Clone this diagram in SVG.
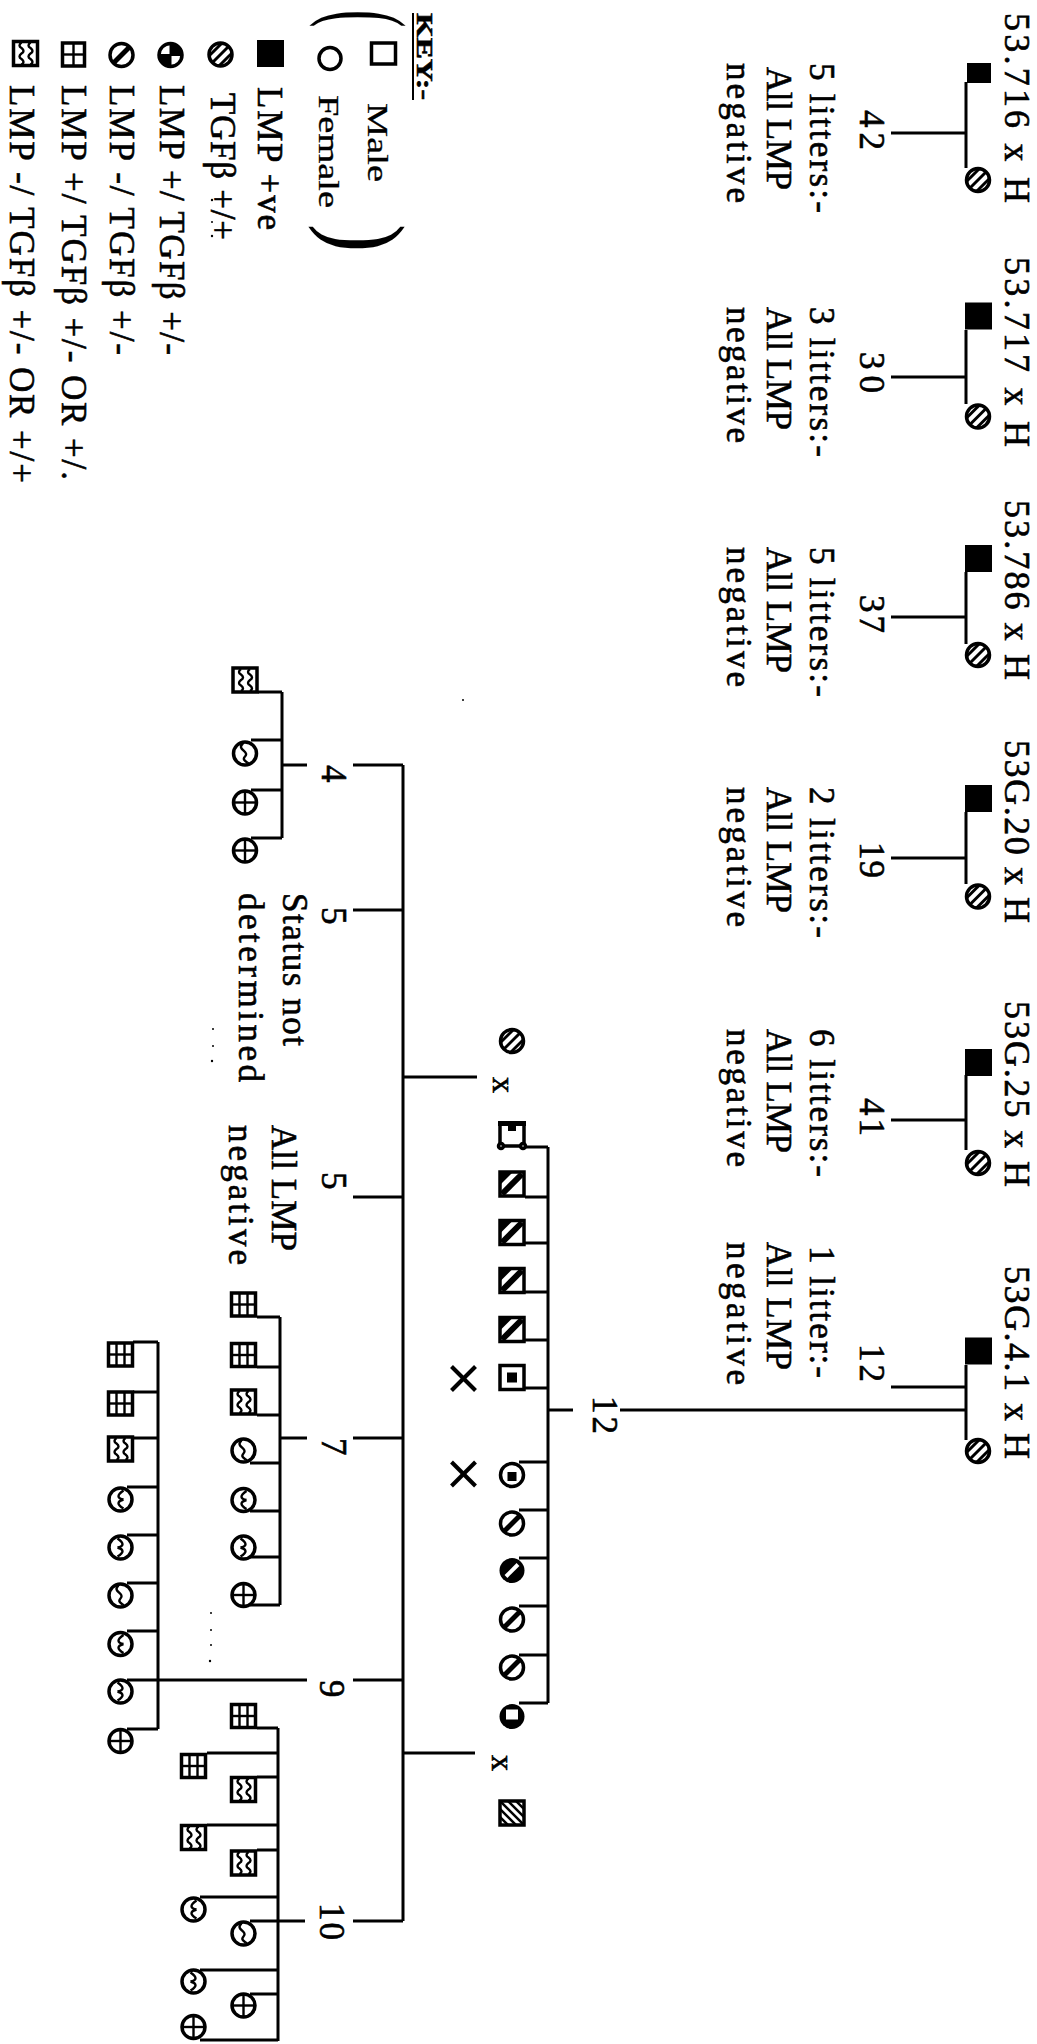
<svg xmlns="http://www.w3.org/2000/svg" xmlns:xlink="http://www.w3.org/1999/xlink" width="1037" height="2044" viewBox="0 0 1037 2044">
<style>
.t{font-family:"Liberation Serif","Times New Roman",serif;fill:#000;stroke:#000;stroke-width:0.6;font-size:35px}
.ti{font-size:36px}
.kk{font-size:24px;font-weight:bold}
.km{font-size:30px;stroke-width:0.3}
.sx{font-size:32px}
.ln{stroke:#000;stroke-width:3;fill:none}
.o{fill:#fff;stroke:#000;stroke-width:3.5}
.th{stroke:#000;stroke-width:2.4;fill:none}
</style>
<defs>
<clipPath id="cc"><circle r="11.5"/></clipPath>
<clipPath id="sc"><rect x="-12" y="-12" width="24" height="24"/></clipPath>
<g id="sqFill"><rect x="-13.5" y="-13.5" width="27" height="27" fill="#000"/></g>
<g id="sqOpen"><rect x="-12" y="-10.5" width="24" height="21" class="o" stroke-width="3.5"/></g>
<g id="cOpen"><circle r="11" class="o" stroke-width="3.5"/></g>
<g id="cStripe"><circle r="11.5" class="o"/><g clip-path="url(#cc)" stroke="#000" stroke-width="3"><line x1="-15" y1="5" x2="5" y2="-15"/><line x1="-10" y1="10" x2="10" y2="-10"/><line x1="-5" y1="15" x2="15" y2="-5"/></g></g>
<g id="cQuad"><circle r="11.5" class="o"/><path d="M0,0 V-11.5 A11.5,11.5 0 0 1 11.5,0 Z M0,0 V11.5 A11.5,11.5 0 0 1 -11.5,0 Z" fill="#000"/><line x1="-11" y1="0" x2="11" y2="0" stroke="#000" stroke-width="2"/><line x1="0" y1="-11" x2="0" y2="11" stroke="#000" stroke-width="2"/></g>
<g id="cBar"><circle r="11.5" class="o"/><line x1="8" y1="-8" x2="-8" y2="8" stroke="#000" stroke-width="5"/></g>
<g id="cBarFill"><circle r="12.5" fill="#000"/><line x1="6" y1="-6" x2="-6" y2="6" stroke="#fff" stroke-width="4"/></g>
<g id="sqGrid"><rect x="-12" y="-11.5" width="24" height="23" class="o"/><line x1="-4" y1="-11" x2="-4" y2="11" class="th"/><line x1="4" y1="-11" x2="4" y2="11" class="th"/><line x1="-12" y1="0" x2="12" y2="0" class="th"/></g>
<g id="sqGrid2"><rect x="-11" y="-11.5" width="22" height="23" class="o" stroke-width="3.5"/><line x1="0" y1="-11" x2="0" y2="11" class="th"/><line x1="-11" y1="0" x2="11" y2="0" class="th"/></g>
<g id="cPlus"><circle r="11.5" class="o"/><line x1="-11" y1="0" x2="11" y2="0" class="th"/><line x1="0" y1="-11" x2="0" y2="11" class="th"/></g>
<g id="sqWave"><rect x="-12" y="-12" width="24" height="24" class="o"/><path d="M-4,-11 q-4,3 0,5.5 q4,3 0,5.5 q-4,3 0,5.5 q4,3 0,5.5" class="th"/><path d="M5,-11 q-4,3 0,5.5 q4,3 0,5.5 q-4,3 0,5.5 q4,3 0,5.5" class="th"/></g>
<g id="cWave"><circle r="11.5" class="o"/><path d="M-2,-10 C-9,-4 5,-2 0,3 C-4,7 4,9 3,10" class="th"/></g>
<g id="cChevL"><circle r="11.5" class="o"/><path d="M3,-9 Q-7,-2 3,0 M3,0 Q-7,3 3,9" class="th"/></g>
<g id="cChevR"><circle r="11.5" class="o"/><path d="M-3,-9 Q7,-2 -3,0 M-3,0 Q7,3 -3,9" class="th"/></g>
<g id="sqDiag"><rect x="-12" y="-12" width="24" height="24" class="o" stroke-width="4"/><path d="M-12,-12 H1 L-12,1 Z" fill="#000"/><line x1="-10" y1="10" x2="10" y2="-10" stroke="#000" stroke-width="6"/></g>
<g id="sqChk"><rect x="-12" y="-12" width="24" height="24" class="o" stroke-width="4"/><rect x="-5" y="-5" width="10" height="10" fill="#000"/></g>
<g id="sqOdd"><rect x="-12" y="-11" width="24" height="22" class="o"/><rect x="-14" y="-14" width="28" height="5" fill="#000"/><rect x="-4" y="-11" width="8" height="7" fill="#000"/><circle cx="-11" cy="11" r="2.5" class="o" stroke-width="1.5"/><circle cx="11" cy="11" r="2.5" class="o" stroke-width="1.5"/></g>
<g id="cDot"><circle r="11.5" class="o"/><rect x="-4.5" y="-3" width="9" height="9" fill="#000"/></g>
<g id="cBase"><circle r="12.5" fill="#000"/><rect x="-6" y="-7" width="12" height="10" fill="#fff"/></g>
<g id="sqHatch"><rect x="-12" y="-12" width="24" height="24" class="o"/><g clip-path="url(#sc)" stroke="#000" stroke-width="2.5"><line x1="-16" y1="-8" x2="8" y2="16"/><line x1="-12" y1="-12" x2="12" y2="12"/><line x1="-8" y1="-16" x2="16" y2="8"/><line x1="-20" y1="-4" x2="4" y2="20"/><line x1="-4" y1="-20" x2="20" y2="4"/></g></g>
<g id="bigX"><line x1="-12" y1="-12" x2="12" y2="12" stroke="#000" stroke-width="4"/><line x1="12" y1="-12" x2="-12" y2="12" stroke="#000" stroke-width="4"/></g>
</defs>
<rect width="1037" height="2044" fill="#fff"/>

<g id="key">
<text class="t kk" transform="translate(417,13) rotate(90)" textLength="87" lengthAdjust="spacingAndGlyphs">KEY:-</text>
<line x1="413" y1="13" x2="413" y2="100" stroke="#000" stroke-width="2"/>
<text class="t" style="font-size:105px;stroke-width:0" transform="translate(332,10) rotate(90) scale(0.5,1)">(</text>
<text class="t" style="font-size:105px;stroke-width:0" transform="translate(331,224) rotate(90) scale(0.8,1)">)</text>
<use href="#sqOpen" x="383.5" y="53.5"/>
<text class="t km" transform="translate(368,103) rotate(90)" textLength="79" lengthAdjust="spacingAndGlyphs">Male</text>
<use href="#cOpen" x="330" y="58.5"/>
<text class="t km" transform="translate(319,95) rotate(90)" textLength="113" lengthAdjust="spacingAndGlyphs">Female</text>
<use href="#sqFill" x="270.5" y="53.5"/>
<text class="t" transform="translate(258,87) rotate(90)" textLength="143" lengthAdjust="spacing">LMP +ve</text>
<use href="#cStripe" x="220.5" y="54.5"/>
<text class="t" transform="translate(211,93) rotate(90)" textLength="147" lengthAdjust="spacing">TGFβ +/+</text>
<use href="#cQuad" x="170.5" y="55"/>
<text class="t" transform="translate(160,85) rotate(90)" textLength="270" lengthAdjust="spacing">LMP +/ TGFβ +/-</text>
<use href="#cBar" x="121.5" y="55"/>
<text class="t" transform="translate(110,85) rotate(90)" textLength="270" lengthAdjust="spacing">LMP -/ TGFβ +/-</text>
<use href="#sqGrid2" x="73.5" y="54.5"/>
<text class="t" transform="translate(62,85) rotate(90)" textLength="395" lengthAdjust="spacing">LMP +/  TGFβ +/-  OR +/.</text>
<use href="#sqWave" x="25.5" y="53.5"/>
<text class="t" transform="translate(10,85) rotate(90)" textLength="398" lengthAdjust="spacing">LMP -/  TGFβ +/-  OR +/+</text>
</g>

<g id="connectors" class="ln">
<path d="M966,82 V168 M891,133 H966"/>
<path d="M966,330 V404 M891,377 H966"/>
<path d="M966,572 V644 M891,617 H966"/>
<path d="M966,812 V884 M891,858 H966"/>
<path d="M966,1075 V1150 M891,1120 H966"/>
<path d="M966,1365 V1440 M891,1387 H966 M620,1410 H966"/>
<path d="M548,1410 H573 M548,1147 V1703"/>
<path d="M525,1147 H548 M525,1197 H548 M525,1243 H548 M525,1292 H548 M525,1340 H548 M525,1388 H548"/>
<path d="M519,1462 H548 M519,1510 H548 M519,1558 H548 M519,1606 H548 M519,1655 H548 M519,1703 H548"/>
<path d="M403,1077 H477 M403,1753 H475 M403,765 V1921"/>
<path d="M353,765 H403 M353,910 H403 M353,1197 H403 M353,1438 H403 M353,1680 H403 M353,1921 H403"/>
<path d="M282,765 H307 M280,1438 H307 M127,1680 H307 M278,1921 H305"/>
<path d="M282,692 V838 M280,1317 V1605 M158,1342 V1729 M278,1728 V2041"/>
<path d="M258,692 H282 M251,740 H282 M251,790 H282 M251,838 H282"/>
<path d="M257,1317 H280 M257,1367 H280 M257,1415 H280 M250,1463 H280 M250,1511 H280 M250,1557 H280 M250,1605 H280"/>
<path d="M133,1342 H158 M133,1392 H158 M133,1438 H158 M127,1487 H158 M127,1535 H158 M127,1583 H158 M127,1631 H158 M127,1729 H158"/>
<path d="M257,1728 H278 M257,1777 H278 M257,1850 H278 M250,1921 H278 M250,1994 H278"/>
<path d="M207,1753 H278 M207,1825 H278 M200,1897 H278 M200,1970 H278 M200,2040 H278"/>
</g>

<g id="cross1">
<text class="t ti" transform="translate(1005,13) rotate(90)" textLength="190" lengthAdjust="spacing">53.716 x H</text>
<rect x="967" y="63" width="24" height="20" fill="#000"/>
<use href="#cStripe" x="978" y="180"/>
<text class="t" transform="translate(860,110) rotate(90)" textLength="40" lengthAdjust="spacing">42</text>
<text class="t" transform="translate(810,63) rotate(90)" textLength="150" lengthAdjust="spacing">5 litters:-</text>
<text class="t" transform="translate(767,67) rotate(90)" textLength="123" lengthAdjust="spacing">All LMP</text>
<text class="t" transform="translate(727,63) rotate(90)" textLength="140" lengthAdjust="spacing">negative</text>
</g>
<g id="cross2">
<text class="t ti" transform="translate(1005,257) rotate(90)" textLength="190" lengthAdjust="spacing">53.717 x H</text>
<use href="#sqFill" x="978.5" y="316"/>
<use href="#cStripe" x="978" y="416.5"/>
<text class="t" transform="translate(860,352) rotate(90)" textLength="41" lengthAdjust="spacing">30</text>
<text class="t" transform="translate(810,307) rotate(90)" textLength="150" lengthAdjust="spacing">3 litters:-</text>
<text class="t" transform="translate(767,307) rotate(90)" textLength="123" lengthAdjust="spacing">All LMP</text>
<text class="t" transform="translate(727,307) rotate(90)" textLength="136" lengthAdjust="spacing">negative</text>
</g>
<g id="cross3">
<text class="t ti" transform="translate(1005,500) rotate(90)" textLength="180" lengthAdjust="spacing">53.786 x H</text>
<use href="#sqFill" x="978.5" y="558.5"/>
<use href="#cStripe" x="978" y="655"/>
<text class="t" transform="translate(860,595) rotate(90)" textLength="38" lengthAdjust="spacing">37</text>
<text class="t" transform="translate(810,547) rotate(90)" textLength="150" lengthAdjust="spacing">5 litters:-</text>
<text class="t" transform="translate(767,547) rotate(90)" textLength="126" lengthAdjust="spacing">All LMP</text>
<text class="t" transform="translate(727,547) rotate(90)" textLength="140" lengthAdjust="spacing">negative</text>
</g>
<g id="cross4">
<text class="t ti" transform="translate(1005,740) rotate(90)" textLength="183" lengthAdjust="spacing">53G.20 x H</text>
<use href="#sqFill" x="978.5" y="798.5"/>
<use href="#cStripe" x="978" y="896.5"/>
<text class="t" transform="translate(860,842) rotate(90)" textLength="36" lengthAdjust="spacing">19</text>
<text class="t" transform="translate(810,787) rotate(90)" textLength="151" lengthAdjust="spacing">2 litters:-</text>
<text class="t" transform="translate(767,787) rotate(90)" textLength="126" lengthAdjust="spacing">All LMP</text>
<text class="t" transform="translate(727,787) rotate(90)" textLength="140" lengthAdjust="spacing">negative</text>
</g>
<g id="cross5">
<text class="t ti" transform="translate(1005,1001) rotate(90)" textLength="186" lengthAdjust="spacing">53G.25 x H</text>
<use href="#sqFill" x="978.5" y="1062.5"/>
<use href="#cStripe" x="978" y="1163"/>
<text class="t" transform="translate(860,1098) rotate(90)" textLength="38" lengthAdjust="spacing">41</text>
<text class="t" transform="translate(810,1029) rotate(90)" textLength="148" lengthAdjust="spacing">6 litters:-</text>
<text class="t" transform="translate(767,1029) rotate(90)" textLength="124" lengthAdjust="spacing">All LMP</text>
<text class="t" transform="translate(727,1029) rotate(90)" textLength="138" lengthAdjust="spacing">negative</text>
</g>
<g id="cross6">
<text class="t ti" transform="translate(1005,1266) rotate(90)" textLength="193" lengthAdjust="spacing">53G.4.1 x H</text>
<use href="#sqFill" x="978.5" y="1351"/>
<use href="#cStripe" x="978" y="1451"/>
<text class="t" transform="translate(860,1344) rotate(90)" textLength="38" lengthAdjust="spacing">12</text>
<text class="t" transform="translate(810,1246) rotate(90)" textLength="132" lengthAdjust="spacing">1 litter:-</text>
<text class="t" transform="translate(767,1242) rotate(90)" textLength="128" lengthAdjust="spacing">All LMP</text>
<text class="t" transform="translate(727,1242) rotate(90)" textLength="143" lengthAdjust="spacing">negative</text>
</g>

<g id="sibship12">
<text class="t" transform="translate(593,1396) rotate(90)" textLength="38" lengthAdjust="spacing">12</text>
<use href="#sqOdd" x="512" y="1135"/>
<use href="#sqDiag" x="512" y="1184"/>
<use href="#sqDiag" x="512" y="1232.5"/>
<use href="#sqDiag" x="512" y="1280.5"/>
<use href="#sqDiag" x="512" y="1329.5"/>
<use href="#sqChk" x="512" y="1377.5"/>
<use href="#cDot" x="512" y="1475"/>
<use href="#cBar" x="512" y="1523.5"/>
<use href="#cBarFill" x="512" y="1570.5"/>
<use href="#cBar" x="512" y="1619.5"/>
<use href="#cBar" x="512" y="1667.5"/>
<use href="#cBase" x="512" y="1716.5"/>
<use href="#bigX" x="463.5" y="1378.5"/>
<use href="#bigX" x="463.5" y="1474"/>
</g>

<g id="mate-top">
<use href="#cStripe" x="512" y="1041"/>
<text class="t sx" transform="translate(493,1077) rotate(90)">x</text>
</g>
<g id="mate-bottom">
<text class="t sx" transform="translate(492,1755) rotate(90)">x</text>
<use href="#sqHatch" x="512" y="1813"/>
</g>

<g id="litter4">
<text class="t" transform="translate(322,765) rotate(90)">4</text>
<use href="#sqWave" x="245" y="680"/>
<use href="#cWave" x="245" y="753.5"/>
<use href="#cPlus" x="245" y="802.5"/>
<use href="#cPlus" x="245" y="850.5"/>
</g>
<g id="litter5a">
<text class="t" transform="translate(322,907) rotate(90)">5</text>
<text class="t" transform="translate(283,893) rotate(90)" textLength="153" lengthAdjust="spacing">Status  not</text>
<text class="t" transform="translate(239,893) rotate(90)" textLength="189" lengthAdjust="spacing">determined</text>
</g>
<g id="litter5b">
<text class="t" transform="translate(322,1172) rotate(90)">5</text>
<text class="t" transform="translate(272,1125) rotate(90)" textLength="126" lengthAdjust="spacing">All LMP</text>
<text class="t" transform="translate(229,1125) rotate(90)" textLength="140" lengthAdjust="spacing">negative</text>
</g>
<g id="litter7">
<text class="t" transform="translate(322,1438) rotate(90)">7</text>
<use href="#sqGrid" x="243.5" y="1304.5"/>
<use href="#sqGrid" x="243.5" y="1355"/>
<use href="#sqWave" x="243.5" y="1402"/>
<use href="#cWave" x="243.5" y="1450.5"/>
<use href="#cChevL" x="243.5" y="1500"/>
<use href="#cChevR" x="243.5" y="1547.5"/>
<use href="#cPlus" x="243.5" y="1595"/>
</g>
<g id="litter9">
<text class="t" transform="translate(320,1680) rotate(90)">9</text>
<use href="#sqGrid" x="120.5" y="1354.5"/>
<use href="#sqGrid" x="120.5" y="1403.5"/>
<use href="#sqWave" x="120.5" y="1449"/>
<use href="#cChevL" x="120.5" y="1499.5"/>
<use href="#cChevR" x="120.5" y="1547.5"/>
<use href="#cWave" x="120.5" y="1595.5"/>
<use href="#cChevL" x="120.5" y="1644"/>
<use href="#cChevR" x="120.5" y="1691.5"/>
<use href="#cPlus" x="120.5" y="1741"/>
</g>
<g id="litter10">
<text class="t" transform="translate(320,1903) rotate(90)" textLength="37" lengthAdjust="spacing">10</text>
<use href="#sqGrid" x="243.5" y="1716"/>
<use href="#sqGrid" x="193.5" y="1766"/>
<use href="#sqWave" x="243.5" y="1789.5"/>
<use href="#sqWave" x="193.5" y="1837.5"/>
<use href="#sqWave" x="243.5" y="1863"/>
<use href="#cChevL" x="193.5" y="1909.5"/>
<use href="#cWave" x="243.5" y="1933.5"/>
<use href="#cChevR" x="193.5" y="1981.5"/>
<use href="#cPlus" x="243.5" y="2005.5"/>
<use href="#cPlus" x="193.5" y="2027"/>
</g>

<g id="specks" fill="#000">
<circle cx="212" cy="200" r="1.2"/><circle cx="212" cy="222" r="1"/><circle cx="212" cy="236" r="1.2"/>
<circle cx="463" cy="700" r="1"/>
<circle cx="213" cy="1029" r="1"/><circle cx="213" cy="1046" r="1"/><circle cx="212" cy="1061" r="1.2"/>
<circle cx="211" cy="1613" r="1"/><circle cx="211" cy="1630" r="1"/><circle cx="211" cy="1645" r="1"/><circle cx="210" cy="1661" r="1.2"/>
</g>
</svg>
